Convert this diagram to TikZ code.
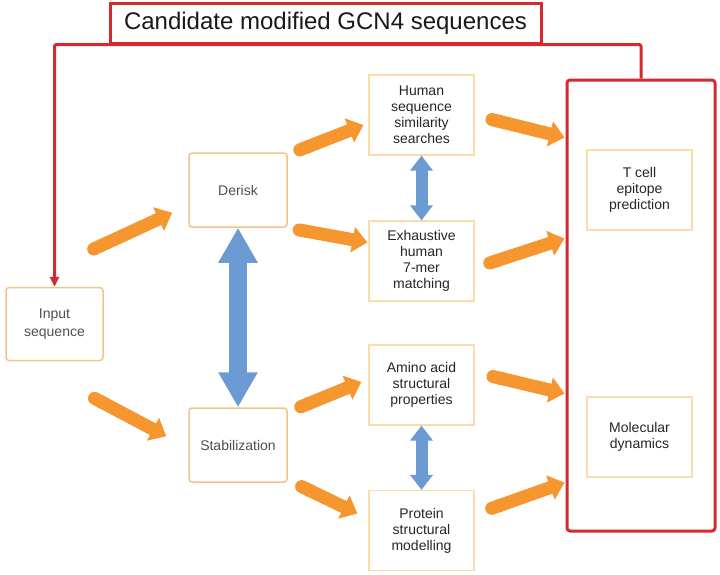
\documentclass[tikz,border=0pt]{standalone}
\usepackage{fontspec}
\setmainfont{Liberation Sans}
\usetikzlibrary{arrows.meta,calc}
\definecolor{redc}{HTML}{D42A2F}
\definecolor{orangec}{HTML}{F5962F}
\definecolor{bluec}{HTML}{6C9AD2}
\definecolor{lborder}{HTML}{F0C48A}
\definecolor{rborder}{HTML}{FCDCAA}
\definecolor{ltext}{HTML}{505050}
\definecolor{rtext}{HTML}{262626}
\begin{document}
\begin{tikzpicture}[x=1pt,y=-1pt,
  lbox/.style={draw=lborder, line width=1.5pt, rounded corners=3pt, fill=white,
    minimum width=97pt, minimum height=73pt, inner sep=0pt, align=center,
    text=ltext, font=\fontsize{14}{17.5}\selectfont},
  rbox/.style={draw=rborder, line width=1.2pt, fill=white,
    minimum width=105pt, minimum height=80pt, inner sep=0pt, align=center,
    text=rtext, font=\fontsize{14}{16}\selectfont},
  oarrow/.style={draw=orangec, line width=13pt,
    {Round Cap[]}-{Triangle[length=15pt,width=25pt]}},
  bigblue/.style={draw=bluec, line width=18pt,
    {Triangle[length=35pt,width=37pt]}-{Triangle[length=35pt,width=37pt]}},
  smallblue/.style={draw=bluec, line width=12pt,
    {Triangle[length=15pt,width=22pt]}-{Triangle[length=15pt,width=22pt]}},
  redline/.style={draw=redc, line width=3pt},
]
\useasboundingbox (0,0) rectangle (720,574);

% red frame box on the right
\node[draw=redc, line width=3pt, rounded corners=3pt, minimum width=148pt,
  minimum height=451pt, inner sep=0pt] (redbox) at (641,305.5) {};

% title
\node[draw=redc, line width=3pt, fill=white, minimum width=431pt, minimum height=40pt,
  inner sep=0pt, font=\fontsize{24}{28}\selectfont, text=black!90] (title) at (325.5,23)
  {Candidate modified GCN4 sequences};

% boxes
\node[lbox] (input) at (54.5,324) {Input\\sequence};
\node[lbox, minimum width=98pt, minimum height=74pt] (derisk) at (238,190) {Derisk};
\node[lbox, minimum width=98pt, minimum height=74pt] (stab) at (238,445) {Stabilization};

\node[rbox] (human) at (421.5,115) {Human\\sequence\\similarity\\searches};
\node[rbox] (exh) at (421.5,261) {Exhaustive\\human\\7-mer\\matching};
\node[rbox] (amino) at (421.5,385) {Amino acid\\structural\\properties};
\node[rbox] (prot) at (421.5,530.5) {Protein\\structural\\modelling};

\node[rbox] (tcell) at (639.5,190) {T cell\\epitope\\prediction};
\node[rbox] (molec) at (639.5,437) {Molecular\\dynamics};

% red feedback line
\draw[redline, rounded corners=2pt, -{Triangle[length=10pt,width=9pt]}]
  (redbox.north) -- (redbox.north |- title.south) -- (input.north |- title.south)
  -- (input.north);

% orange arrows
\draw[oarrow] ($(input.north east)+(-16,-35)$) -- ($(derisk.south west)+(-16,-15)$);
\draw[oarrow] ($(input.south east)+(-15,34)$) -- ($(stab.north west)+(-22,29)$);
\draw[oarrow] ($(derisk.north east)+(6,0)$) -- ($(human.west)+(-5,10)$);
\draw[oarrow] ($(derisk.south east)+(5,1)$) -- ($(exh.north west)+(-1,22)$);
\draw[oarrow] ($(stab.north east)+(7,2)$) -- ($(amino.west)+(-7,-3)$);
\draw[oarrow] ($(stab.south east)+(8,1)$) -- ($(prot.west)+(-11,-17)$);

\draw[oarrow] ($(human.east)+(11,3)$) -- ($(redbox.west)+(-1,-168)$);
\draw[oarrow] ($(exh.east)+(9,4)$) -- ($(redbox.west)+(-1,-67)$);
\draw[oarrow] ($(amino.east)+(12,-10)$) -- ($(redbox.west)+(-1,88)$);
\draw[oarrow] ($(prot.east)+(11,-20)$) -- ($(redbox.west)+(-1,177)$);

% blue double arrows
\draw[bigblue] (derisk.south) -- (stab.north);
\draw[smallblue] (human.south) -- (exh.north);
\draw[smallblue] (amino.south) -- (prot.north);
\end{tikzpicture}
\end{document}
